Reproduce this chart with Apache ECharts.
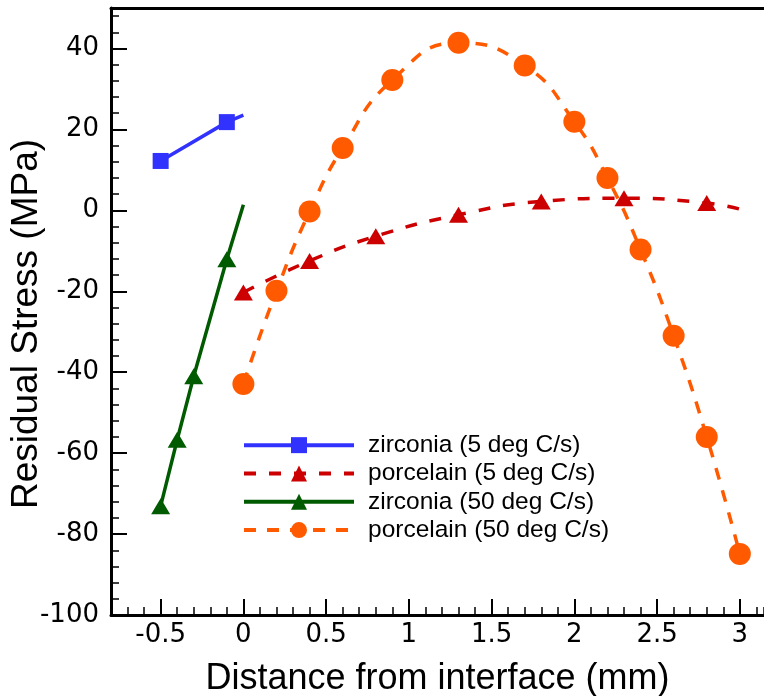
<!DOCTYPE html>
<html><head><meta charset="utf-8">
<script src="https://cdn.jsdelivr.net/npm/echarts@6/dist/echarts.min.js"></script>
<style>html,body{margin:0;padding:0;background:#fff}#c{width:764px;height:696px}</style>
</head><body><div id="c"></div>
<script>
const seriesNames = ['zirconia (5 deg C/s)', 'porcelain (5 deg C/s)', 'zirconia (50 deg C/s)', 'porcelain (50 deg C/s)'];
const zirconia5X = [-0.5, -0.1, 0];
const zirconia5Y = [12.2, 21.8, 23.5];
const zirconia5Marked = [true, true, false];
const porcelain5X = [0, 0.4, 0.8, 1.3, 1.8, 2.3, 2.8, 3.0];
const porcelain5Y = [-20.3, -12.5, -6.4, -1.1, 2.2, 3.0, 1.8, 0.3];
const porcelain5Marked = [true, true, true, true, true, true, true, false];
const zirconia50X = [-0.5, -0.4, -0.3, -0.1, 0];
const zirconia50Y = [-73.1, -56.7, -41.0, -12.1, 1.4];
const zirconia50Marked = [true, true, true, true, false];
const porcelain50X = [0, 0.2, 0.4, 0.6, 0.9, 1.3, 1.7, 2.0, 2.2, 2.4, 2.6, 2.8, 3.0];
const porcelain50Y = [-42.9, -19.9, -0.3, 15.4, 32.2, 41.4, 35.8, 21.9, 8.0, -9.7, -31.0, -56.0, -84.9];
const porcelain50Marked = porcelain50X.map(() => true);
const xTickLabels = [-0.5, 0, 0.5, 1, 1.5, 2, 2.5, 3];
const yTickLabels = [-100, -80, -60, -40, -20, 0, 20, 40];
const xMin = -0.8, xMax = 3.146;

function pts(xs, ys, marked) {
  return xs.map((x, i) => marked[i] ? [x, ys[i]] : { value: [x, ys[i]], symbol: 'none' });
}

const chart = echarts.init(document.getElementById('c'), null, { renderer: 'canvas' });
const tickFont = 'DejaVu Sans';
const option = {
  animation: false,
  backgroundColor: '#fff',
  grid: { left: 111, top: 8, right: 0, bottom: 81, containLabel: false, outerBoundsMode: 'none' },
  legend: {
    orient: 'vertical', left: 237, top: 426, itemWidth: 110, itemHeight: 20, itemGap: 0,
    data: seriesNames,
    lineStyle: { width: 4 },
    textStyle: { fontFamily: 'Liberation Sans', fontSize: 24.5, color: '#000', lineHeight: 28.3, padding: [0, 0, 0, 9] }
  },
  graphic: [{
    type: 'text', x: 27, y: 324, rotation: Math.PI / 2,
    style: { text: 'Residual Stress (MPa)', font: '37px "Liberation Sans"', fill: '#000', textAlign: 'center', textVerticalAlign: 'middle' }
  }],
  xAxis: [{
    type: 'value', min: xMin, max: xMax, position: 'bottom',
    name: 'Distance from interface (mm)', nameLocation: 'middle', nameGap: 46,
    nameTextStyle: { fontFamily: 'Liberation Sans', fontSize: 36, color: '#000' },
    axisLine: { show: true, onZero: false, lineStyle: { color: '#000', width: 3 } },
    axisTick: { show: true, inside: true, length: 16, lineStyle: { color: '#000', width: 2 }, customValues: xTickLabels },
    axisLabel: { show: true, margin: 7, customValues: xTickLabels, fontFamily: tickFont, fontSize: 26, color: '#000', formatter: v => String(v) },
    splitLine: { show: false }
  }, {
    type: 'value', min: xMin, max: xMax, interval: 0.1, position: 'bottom',
    axisLine: { show: false, onZero: false },
    axisTick: { show: true, inside: true, length: 8, lineStyle: { color: '#000', width: 1.5 } },
    axisLabel: { show: false }, splitLine: { show: false }
  }, {
    type: 'value', min: xMin, max: xMax, position: 'top',
    axisLine: { show: true, onZero: false, lineStyle: { color: '#000', width: 3 } },
    axisTick: { show: false }, axisLabel: { show: false }, splitLine: { show: false }
  }],
  yAxis: {
    type: 'value', min: -100, max: 50, interval: 20,
    axisLine: { show: true, onZero: false, lineStyle: { color: '#000', width: 3 } },
    axisTick: { show: true, inside: true, length: 16, lineStyle: { color: '#000', width: 2 } },
    minorTick: { show: true, splitNumber: 5, length: 8, lineStyle: { color: '#000', width: 1.5 } },
    axisLabel: { margin: 12, fontFamily: tickFont, fontSize: 26, color: '#000', formatter: v => yTickLabels.includes(v) ? String(v) : '' },
    splitLine: { show: false }
  },
  series: [{
    name: seriesNames[0], type: 'line', data: pts(zirconia5X, zirconia5Y, zirconia5Marked),
    symbol: 'rect', symbolSize: 16, color: '#3232ff',
    lineStyle: { color: '#3232ff', width: 3.5 }, itemStyle: { color: '#3232ff' }
  }, {
    name: seriesNames[1], type: 'line', smooth: true, data: pts(porcelain5X, porcelain5Y, porcelain5Marked),
    symbol: 'triangle', symbolSize: [19, 16], color: '#cc0000',
    lineStyle: { color: '#cc0000', width: 3.5, type: [12, 13] }, itemStyle: { color: '#cc0000' }
  }, {
    name: seriesNames[2], type: 'line', data: pts(zirconia50X, zirconia50Y, zirconia50Marked),
    symbol: 'triangle', symbolSize: [19, 16], color: '#005a00',
    lineStyle: { color: '#005a00', width: 3.5 }, itemStyle: { color: '#005a00' }
  }, {
    name: seriesNames[3], type: 'line', smooth: true, data: pts(porcelain50X, porcelain50Y, porcelain50Marked),
    symbol: 'circle', symbolSize: 22, color: '#ff5a00',
    lineStyle: { color: '#ff5a00', width: 3.5, type: [12, 11] }, itemStyle: { color: '#ff5a00' }
  }]
};
chart.setOption(option);
</script></body></html>
